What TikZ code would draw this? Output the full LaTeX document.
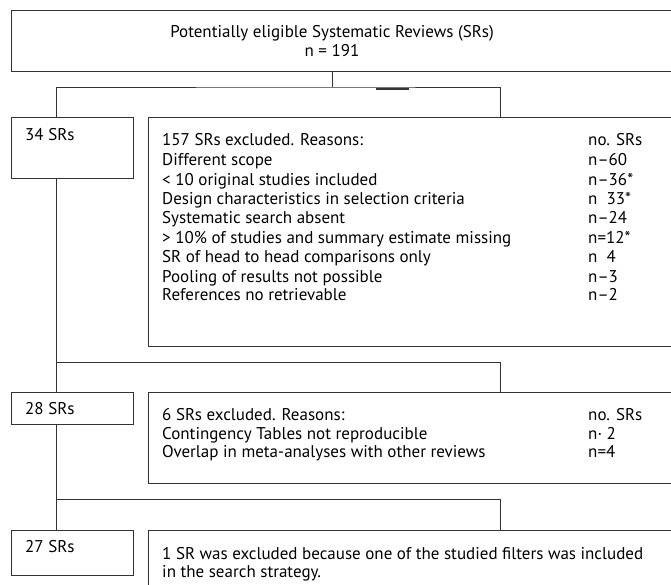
\documentclass[tikz,border=0pt]{standalone}
\usepackage{fontspec}
\setmainfont{PT Sans}
\usepackage{tikz}

\tikzset{
  kasten/.style={draw=black!80, line width=0.9pt, rectangle, inner sep=0pt, anchor=north west},
  zeile/.style={anchor=base west, inner sep=0pt, font=\fontsize{17}{19}\selectfont},
  mitte/.style={anchor=base, inner sep=0pt, font=\fontsize{17}{19}\selectfont},
  linie/.style={draw=black!80, line width=0.9pt}
}

\begin{document}
\begin{tikzpicture}[x=1pt, y=-1pt]
	\useasboundingbox (0,0) rectangle (671,584);

	% Kaesten zeichnen
	\node[kasten, minimum width=690pt, minimum height=61pt] (Start) at (11,10) {};
	\node[kasten, minimum width=122pt, minimum height=61pt] (SR-34) at (11,117) {};
	\node[kasten, minimum width=540pt, minimum height=229pt] (Aus-1) at (148,117) {};
	\node[kasten, minimum width=122pt, minimum height=32pt] (SR-28) at (11,392) {};
	\node[kasten, minimum width=540pt, minimum height=91pt] (Aus-2) at (148,392) {};
	\node[kasten, minimum width=122pt, minimum height=45pt] (SR-27) at (11,530) {};
	\node[kasten, minimum width=540pt, minimum height=80pt] (Aus-3) at (148,530) {};

	% Hilfspunkte fuer die Verbindungen
	\coordinate (L) at (56,0);
	\coordinate (M) at (332,0);
	\coordinate (R) at (500,0);
	\coordinate (Verz-1) at (332,87);
	\coordinate (Verz-2) at (56,362);
	\coordinate (Verz-3) at (56,499);

	% Verbindungen zeichnen
	\draw[linie] (Start.south -| M) -- (Verz-1);
	\draw[linie] (SR-34.north -| L) |- (Verz-1) -| (Aus-1.north -| R);
	\draw[line width=2pt, black!80] (376,88.5) -- (409,88.5);
	\draw[linie] (SR-34.south -| L) -- (SR-28.north -| L);
	\draw[linie] (Verz-2) -| (Aus-2.north -| R);
	\draw[linie] (SR-28.south -| L) -- (SR-27.north -| L);
	\draw[linie] (Verz-3) -| (Aus-3.north -| R);

	% Beschriftung oben
	\node[mitte] (Titel) at (332,37) {Potentially eligible Systematic Reviews (SRs)};
	\node[mitte] (Titel-n) at (332,56) {n = 191};

	% Linke Spalte
	\node[zeile] (T-34) at (25,140) {34 SRs};
	\node[zeile] (T-28) at (25,414) {28 SRs};
	\node[zeile] (T-27) at (25,552) {27 SRs};

	% Erster Ausschluss
	\node[zeile] (A1-0) at (162,145) {157 SRs excluded. Reasons:};
	\node[zeile] (A1-1) at (162,165) {Different scope};
	\node[zeile] (A1-2) at (162,185) {< 10 original studies included};
	\node[zeile] (A1-3) at (162,204) {Design characteristics in selection criteria};
	\node[zeile] (A1-4) at (162,223) {Systematic search absent};
	\node[zeile] (A1-5) at (162,243) {> 10\% of studies and summary estimate missing};
	\node[zeile] (A1-6) at (162,262) {SR of head to head comparisons only};
	\node[zeile] (A1-7) at (162,282) {Pooling of results not possible};
	\node[zeile] (A1-8) at (162,300) {References no retrievable};
	\node[zeile] (N1-0) at (588,145) {no. SRs};
	\node[zeile] (N1-1) at (588,165) {n–60};
	\node[zeile] (N1-2) at (588,185) {n–36*};
	\node[zeile] (N1-3) at (588,204) {n\ \ 33*};
	\node[zeile] (N1-4) at (588,223) {n–24};
	\node[zeile] (N1-5) at (588,243) {n=12*};
	\node[zeile] (N1-6) at (588,262) {n\ \ 4};
	\node[zeile] (N1-7) at (588,282) {n–3};
	\node[zeile] (N1-8) at (588,300) {n–2};

	% Zweiter Ausschluss
	\node[zeile] (A2-0) at (162,420) {6 SRs excluded. Reasons:};
	\node[zeile] (A2-1) at (162,439) {Contingency Tables not reproducible};
	\node[zeile] (A2-2) at (162,457) {Overlap in meta-analyses with other reviews};
	\node[zeile] (N2-0) at (588,420) {no. SRs};
	\node[zeile] (N2-1) at (588,439) {n· 2};
	\node[zeile] (N2-2) at (588,457) {n=4};

	% Dritter Ausschluss
	\node[zeile] (A3-1) at (162,559) {1 SR was excluded because one of the studied filters was included};
	\node[zeile] (A3-2) at (162,577) {in the search strategy.};
\end{tikzpicture}
\end{document}
